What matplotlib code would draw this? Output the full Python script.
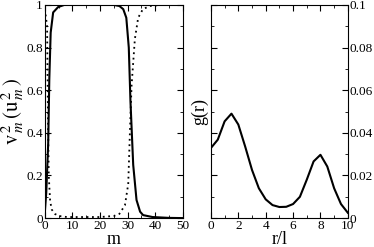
import matplotlib
matplotlib.use('Agg')
import matplotlib.pyplot as plt
from matplotlib.ticker import MultipleLocator, FuncFormatter

plt.rcParams['font.family'] = ['Liberation Serif', 'DejaVu Serif']
plt.rcParams['mathtext.fontset'] = 'stix'

# left panel: v_m^2 (solid) and u_m^2 (dotted)
m_solid = [0, 0.5, 1.2, 1.6, 2.1, 3, 4.8, 7, 25, 27, 28.4, 29.5, 30.4, 31, 32,
           33.2, 34.5, 35.6, 39, 45, 50]
v_solid = [0.03, 0.12, 0.35, 0.65, 0.87, 0.965, 0.99, 1.0, 1.0, 0.995, 0.98,
           0.94, 0.8, 0.55, 0.25, 0.085, 0.03, 0.014, 0.005, 0.001, 0.0]
m_dot = [0, 0.8, 1.1, 1.4, 1.9, 2.5, 3.6, 5, 8, 20, 25, 27, 29, 30.2, 30.8,
         31.4, 32.6, 33.8, 35.5, 38, 42, 50]
u_dot = [0.98, 0.9, 0.5, 0.2, 0.08, 0.04, 0.02, 0.01, 0.005, 0.005, 0.01, 0.02,
         0.06, 0.16, 0.4, 0.62, 0.84, 0.94, 0.98, 0.995, 1.0, 1.0]

# right panel: g(r)
r = [0, 0.5, 1, 1.5, 2, 2.5, 3, 3.5, 4, 4.5, 5, 5.5, 6, 6.5, 7, 7.5, 8, 8.5,
     9, 9.5, 10]
g = [0.0329, 0.0368, 0.0454, 0.049, 0.0439, 0.0336, 0.0226, 0.014, 0.0088,
     0.0061, 0.0052, 0.0053, 0.0066, 0.010, 0.018, 0.0266, 0.0297, 0.0242,
     0.014, 0.0066, 0.0025]


def fmt(v, pos):
    return ('%g' % round(v, 6))


fig = plt.figure(figsize=(3.74, 2.47), dpi=100)
ax1 = fig.add_axes([0.120, 0.117, 0.369, 0.863])
ax2 = fig.add_axes([0.564, 0.117, 0.366, 0.863])

ax1.plot(m_solid, v_solid, color='black', lw=1.5)
ax1.plot(m_dot, u_dot, color='black', lw=1.3, linestyle=(0, (1, 2)))
ax1.set_xlim(0, 50)
ax1.set_ylim(0, 1)
ax1.xaxis.set_major_locator(MultipleLocator(10))
ax1.xaxis.set_minor_locator(MultipleLocator(5))
ax1.yaxis.set_major_locator(MultipleLocator(0.2))
ax1.yaxis.set_minor_locator(MultipleLocator(0.1))
ax1.yaxis.set_major_formatter(FuncFormatter(fmt))
ax1.set_xlabel('m', fontsize=13, labelpad=-1)
ax1.set_ylabel(r'$\mathrm{v}^{\,2}_{\,m}\,(\mathrm{u}^{\,2}_{\,m}\,)$',
               fontsize=15, labelpad=0)

ax2.plot(r, g, color='black', lw=1.5)
ax2.set_xlim(0, 10)
ax2.set_ylim(0, 0.1)
ax2.xaxis.set_major_locator(MultipleLocator(2))
ax2.xaxis.set_minor_locator(MultipleLocator(1))
ax2.yaxis.set_major_locator(MultipleLocator(0.02))
ax2.yaxis.set_minor_locator(MultipleLocator(0.01))
ax2.yaxis.set_major_formatter(FuncFormatter(fmt))
ax2.set_xlabel('r/l', fontsize=13, labelpad=-1)
ax2.set_ylabel('g(r)', fontsize=13, labelpad=2)
ax2.yaxis.tick_right()
ax2.yaxis.set_label_position('left')

for ax in (ax1, ax2):
    ax.tick_params(which='both', direction='in', top=True, bottom=True,
                   left=True, right=True, labelsize=9.5, pad=1.5)
    ax.tick_params(which='major', length=4)
    ax.tick_params(which='minor', length=2)
ax2.tick_params(labelleft=False, labelright=True)

fig.savefig('out.png', dpi=100)
